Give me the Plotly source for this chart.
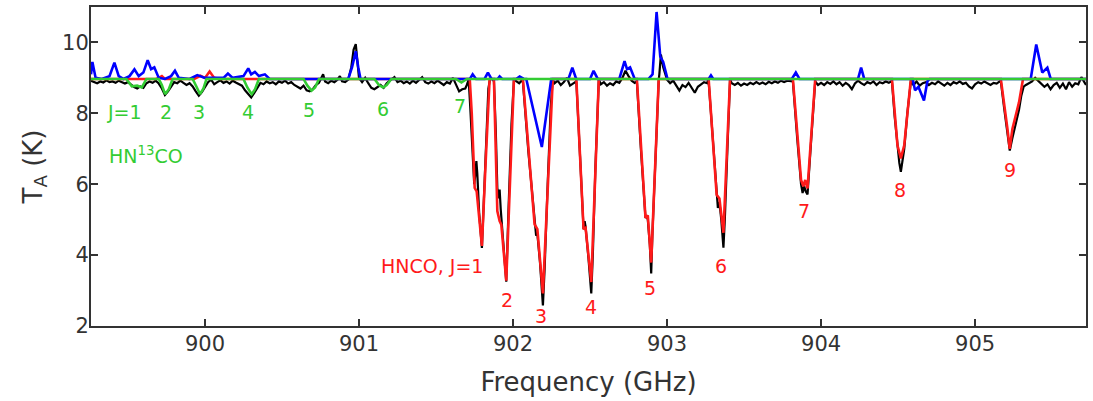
import plotly.graph_objects as go

# ---------------- data ----------------
# observed spectrum (black)
obs_freq = [899.26, 899.28, 899.30, 899.32, 899.34, 899.36, 899.38, 899.40, 899.42, 899.44,
            899.46, 899.48, 899.50, 899.52, 899.54, 899.56, 899.58, 899.60, 899.62, 899.64,
            899.66, 899.68, 899.70, 899.72, 899.74, 899.76, 899.78, 899.80, 899.82, 899.84,
            899.86, 899.88, 899.90, 899.92, 899.94, 899.96, 899.98, 900.00, 900.02, 900.04,
            900.06, 900.08, 900.10, 900.12, 900.14, 900.16, 900.18, 900.20, 900.22, 900.24,
            900.26, 900.28, 900.30, 900.32, 900.34, 900.36, 900.38, 900.40, 900.42, 900.44,
            900.46, 900.48, 900.50, 900.52, 900.54, 900.56, 900.58, 900.60, 900.62, 900.64,
            900.66, 900.68, 900.70, 900.72, 900.74, 900.767, 900.78, 900.80, 900.82, 900.84,
            900.86, 900.876, 900.89, 900.91, 900.93, 900.95, 900.965, 900.979, 900.99, 901.00,
            901.02, 901.04, 901.06, 901.08, 901.10, 901.12, 901.14, 901.16, 901.18, 901.20,
            901.23, 901.25, 901.27, 901.29, 901.31, 901.33, 901.35, 901.37, 901.39, 901.41,
            901.43, 901.45, 901.47, 901.49, 901.51, 901.53, 901.55, 901.57, 901.59, 901.61,
            901.63, 901.65, 901.67, 901.69, 901.70,
            901.712, 901.722, 901.735, 901.748, 901.756, 901.762, 901.768, 901.780, 901.798, 901.810,
            901.825, 901.840, 901.850, 901.860, 901.870,
            901.876, 901.888, 901.898, 901.905, 901.913, 901.920, 901.940, 901.956, 901.970, 901.990,
            902.006, 902.020, 902.040, 902.055,
            902.064, 902.100, 902.140, 902.150, 902.158, 902.175, 902.194, 902.205, 902.225, 902.245,
            902.258, 902.270, 902.290, 902.310, 902.330, 902.350, 902.370, 902.390, 902.405,
            902.411, 902.435, 902.458, 902.465, 902.471, 902.490, 902.508, 902.518, 902.535, 902.557,
            902.570, 902.590, 902.610, 902.630, 902.650, 902.670, 902.690, 902.710, 902.730, 902.750,
            902.770, 902.790, 902.800,
            902.804, 902.830, 902.860, 902.868, 902.875, 902.888, 902.897, 902.905, 902.925, 902.946,
            902.950, 902.960, 902.975, 902.990, 903.000, 903.020, 903.040, 903.060, 903.080, 903.100,
            903.120, 903.140, 903.160, 903.180, 903.200, 903.220, 903.240, 903.260, 903.265,
            903.270, 903.295, 903.322, 903.330, 903.340, 903.352, 903.366, 903.375, 903.392, 903.409,
            903.420, 903.440, 903.460, 903.480, 903.500, 903.520, 903.540, 903.560, 903.580, 903.600,
            903.620, 903.640, 903.660, 903.680, 903.700, 903.720, 903.740, 903.760, 903.780, 903.800,
            903.810,
            903.817, 903.845, 903.870, 903.880, 903.890, 903.900, 903.912, 903.935, 903.962,
            903.980, 904.000, 904.020, 904.040, 904.060, 904.080, 904.100, 904.120, 904.140, 904.160,
            904.180, 904.200, 904.220, 904.240, 904.260, 904.280, 904.300, 904.320, 904.340, 904.360,
            904.380, 904.400, 904.420, 904.440, 904.455,
            904.460, 904.478, 904.496, 904.508, 904.518, 904.528, 904.540, 904.560, 904.583,
            904.600, 904.620, 904.640, 904.660, 904.680, 904.700, 904.720, 904.740, 904.760, 904.780,
            904.800, 904.820, 904.840, 904.860, 904.880, 904.900, 904.920, 904.940, 904.960, 904.980,
            905.000, 905.020, 905.040, 905.060, 905.080, 905.100, 905.120, 905.140, 905.160,
            905.167, 905.190, 905.210, 905.225, 905.242, 905.260, 905.285, 905.300, 905.315, 905.330,
            905.350, 905.370, 905.390, 905.410, 905.430, 905.450, 905.470, 905.490, 905.510, 905.530,
            905.550, 905.570, 905.590, 905.610, 905.630, 905.650, 905.670, 905.690, 905.720]
obs_temp = [8.92, 8.88, 8.85, 8.90, 8.87, 8.93, 8.88, 8.90, 8.86, 8.92,
            8.89, 8.84, 8.88, 8.80, 8.74, 8.70, 8.76, 8.72, 8.85, 8.90,
            8.86, 8.92, 8.84, 8.70, 8.52, 8.62, 8.75, 8.88, 8.85, 8.92,
            8.86, 8.80, 8.85, 8.76, 8.62, 8.50, 8.60, 8.75, 8.88, 8.95,
            8.82, 8.88, 8.93, 8.86, 8.90, 8.84, 8.92, 8.87, 8.83, 8.78,
            8.65, 8.55, 8.45, 8.58, 8.72, 8.86, 8.82, 8.90, 8.85, 8.88,
            8.82, 8.90, 8.86, 8.92, 8.84, 8.88, 8.80, 8.74, 8.70, 8.78,
            8.65, 8.62, 8.68, 8.80, 8.86, 9.10, 8.90, 8.85, 8.92, 8.88,
            8.95, 9.05, 8.90, 8.88, 8.95, 9.30, 9.80, 9.95, 9.50, 9.00,
            8.88, 9.00, 8.85, 8.72, 8.68, 8.75, 8.80, 8.72, 8.85, 8.92,
            9.02, 8.88, 8.92, 8.85, 8.90, 8.84, 8.92, 8.86, 8.95, 9.02,
            8.88, 8.84, 8.90, 8.85, 8.92, 8.86, 8.80, 8.88, 8.84, 9.00,
            8.80, 8.62, 8.68, 8.70, 8.80,
            8.95, 8.20, 6.90, 6.00, 6.30, 6.65, 6.30, 5.20, 4.20, 5.50,
            7.50, 8.70, 8.95, 8.98, 8.95,
            8.90, 7.50, 5.90, 5.60, 5.85, 5.30, 4.20, 3.25, 5.20, 7.70,
            8.95, 8.90, 8.85, 8.92,
            8.90, 6.90, 4.87, 4.55, 4.60, 3.80, 2.58, 3.60, 6.00, 8.20,
            8.95, 8.85, 8.92, 8.80, 8.88, 9.00, 8.78, 8.84, 8.90,
            8.90, 6.80, 4.73, 4.96, 4.80, 3.90, 2.92, 4.00, 6.50, 8.95,
            8.82, 8.88, 8.78, 8.85, 8.80, 8.90, 8.86, 9.00, 9.20, 9.05,
            8.92, 8.86, 8.90,
            8.90, 7.00, 5.05, 5.10, 5.00, 4.30, 3.48, 4.60, 7.00, 8.95,
            9.10, 9.66, 9.30, 9.10, 8.95, 8.85, 8.92, 8.78, 8.64, 8.80,
            8.74, 8.86, 8.70, 8.58, 8.75, 8.82, 8.88, 8.85, 8.92,
            8.90, 7.30, 5.70, 5.33, 5.50, 5.00, 4.21, 5.00, 7.00, 8.95,
            8.85, 8.80, 8.86, 8.78, 8.84, 8.80, 8.86, 8.82, 8.88, 8.83,
            8.87, 8.82, 8.89, 8.85, 8.90, 8.86, 8.92, 8.88, 8.92, 8.90,
            8.90,
            8.90, 7.30, 6.00, 5.75, 5.95, 5.80, 5.71, 7.20, 8.90,
            8.80, 8.86, 8.80, 8.88, 8.83, 8.90, 8.82, 8.88, 8.78, 8.86,
            8.80, 8.68, 8.84, 8.92, 8.85, 8.80, 8.88, 8.84, 8.90, 8.80,
            8.88, 8.85, 8.90, 8.86, 8.90,
            8.90, 7.90, 7.00, 6.60, 6.35, 6.70, 7.00, 8.00, 8.90,
            8.80, 8.90, 8.78, 8.85, 8.88, 8.80, 8.86, 8.82, 8.90, 8.84,
            8.78, 8.86, 8.80, 8.88, 8.84, 8.90, 8.83, 8.86, 8.76, 8.70,
            8.82, 8.88, 8.84, 8.90, 8.85, 8.80, 8.86, 8.84, 8.90,
            8.90, 8.10, 7.50, 6.95, 7.30, 7.60, 8.10, 8.50, 8.75, 8.80,
            8.85, 8.90, 9.00, 8.92, 8.85, 8.75, 8.82, 8.68, 8.80, 8.86,
            8.72, 8.84, 8.68, 8.88, 8.75, 8.85, 8.82, 9.02, 8.80]

# HNCO model (red)
hnco_freq = [899.26, 899.68, 899.70, 899.72, 899.74, 899.93, 899.97, 900.00, 900.03, 900.06, 900.10, 901.706,
             901.719, 901.732, 901.751, 901.764, 901.798, 901.822, 901.848,
             901.876, 901.898, 901.913, 901.924, 901.956, 902.006,
             902.064, 902.140, 902.158, 902.194, 902.258,
             902.411, 902.458, 902.471, 902.508, 902.557,
             902.804, 902.860, 902.875, 902.897, 902.946,
             903.270, 903.322, 903.340, 903.366, 903.409,
             903.817, 903.870, 903.885, 903.897, 903.912, 903.962,
             904.460, 904.496, 904.518, 904.540, 904.583,
             905.167, 905.210, 905.225, 905.242, 905.285, 905.311, 905.720]
hnco_temp = [8.97, 8.97, 9.00, 9.05, 8.97, 8.97, 9.06, 9.00, 9.18, 9.00, 8.97, 8.97,
             8.97, 8.00, 5.90, 5.80, 4.26, 6.60, 8.97,
             8.97, 5.24, 4.96, 4.86, 3.28, 8.97,
             8.97, 4.87, 4.73, 2.92, 8.97,
             8.97, 4.73, 4.77, 3.24, 8.97,
             8.97, 5.05, 5.12, 3.79, 8.97,
             8.97, 5.70, 5.60, 4.63, 8.97,
             8.97, 6.12, 5.94, 6.12, 5.88, 8.97,
             8.97, 7.10, 6.73, 7.10, 8.97,
             8.97, 7.56, 7.00, 7.56, 8.31, 8.97, 8.97]

# other species model (blue)
blue_freq = [899.26, 899.269, 899.29, 899.33, 899.38, 899.412, 899.44, 899.47, 899.51, 899.542,
             899.57, 899.60, 899.628, 899.65, 899.671, 899.70, 899.74, 899.78, 899.805, 899.83,
             899.90, 899.95, 900.00, 900.12, 900.149, 900.18, 900.25, 900.281, 900.30, 900.324,
             900.35, 900.389, 900.42, 900.93, 900.955, 900.979, 900.995, 901.01,
             901.72, 901.738, 901.76, 901.815, 901.837, 901.86, 901.90, 901.913, 901.93, 902.02,
             902.043, 902.07, 902.086, 902.187, 902.248, 902.27, 902.36, 902.385, 902.41, 902.50,
             902.523, 902.55, 902.69, 902.724, 902.74, 902.76, 902.79, 902.88, 902.906, 902.932,
             902.956, 902.975, 903.003, 903.27, 903.285, 903.30, 903.81, 903.836, 903.86, 904.24,
             904.26, 904.28, 904.595, 904.610, 904.632, 904.668, 904.690, 904.705, 905.361, 905.397,
             905.436, 905.469, 905.491, 905.720]
blue_temp = [9.10, 9.45, 9.00, 8.97, 9.05, 9.43, 9.05, 8.97, 9.05, 9.24,
             9.05, 9.15, 9.50, 9.25, 9.30, 9.00, 8.97, 9.05, 9.20, 9.00,
             8.97, 9.08, 9.00, 9.00, 9.12, 9.00, 9.05, 9.27, 9.10, 9.17,
             9.05, 9.10, 8.97, 8.97, 9.30, 9.75, 9.30, 8.97,
             8.97, 9.10, 8.97, 8.97, 9.15, 8.97, 8.97, 9.04, 8.97, 8.97,
             9.04, 8.97, 8.97, 7.05, 8.97, 8.97, 8.97, 9.29, 8.97, 8.97,
             9.20, 8.97, 8.97, 9.47, 9.25, 9.30, 8.97, 8.97, 9.10, 10.86,
             9.60, 9.45, 8.97, 8.97, 9.07, 8.97, 8.97, 9.15, 8.97, 8.97,
             9.29, 8.97, 8.97, 8.65, 8.75, 8.36, 8.90, 8.97, 8.97, 9.94,
             9.15, 9.29, 8.97, 8.97]

# HN13CO model (green)
hn13co_freq = [899.26, 899.49, 899.525, 899.56, 899.59, 899.62, 899.70, 899.720, 899.741, 899.765,
               899.79, 899.92, 899.945, 899.968, 899.990, 900.01, 900.25, 900.275, 900.303, 900.325,
               900.35, 900.64, 900.665, 900.692, 900.715, 900.74, 901.10, 901.130, 901.156, 901.180,
               901.21, 901.63, 901.665, 901.70, 905.720]
hn13co_temp = [8.97, 8.97, 8.76, 8.78, 8.73, 8.97, 8.97, 8.80, 8.54, 8.68,
               8.97, 8.97, 8.75, 8.54, 8.70, 8.97, 8.97, 8.73, 8.54, 8.68,
               8.97, 8.97, 8.78, 8.64, 8.73, 8.97, 8.97, 8.80, 8.73, 8.80,
               8.97, 8.97, 8.87, 8.97, 8.97]

# labels
hnco_labels = ["HNCO, J=1", "2", "3", "4", "5", "6", "7", "8", "9"]
hnco_label_freq = [901.818, 901.958, 902.179, 902.503, 902.892, 903.353, 903.891, 904.514, 905.227]
hnco_label_temp = [3.70, 2.73, 2.28, 2.54, 3.06, 3.70, 5.24, 5.84, 6.40]

hn13co_labels = ["J=1", "2", "3", "4", "5", "6", "7"]
hn13co_label_freq = [899.478, 899.747, 899.961, 900.279, 900.674, 901.158, 901.654]
hn13co_label_temp = [8.03, 8.03, 8.03, 8.03, 8.10, 8.11, 8.20]

x_ticks = [900, 901, 902, 903, 904, 905]
y_ticks = [2, 4, 6, 8, 10]

# ---------------- figure ----------------
RED = "#ff1a1a"
GREEN = "#33cc33"
BLUE = "#0000ff"
FONT = "DejaVu Sans"

fig = go.Figure()
fig.add_trace(go.Scatter(x=obs_freq, y=obs_temp, mode="lines",
                         line=dict(color="black", width=2.2), hoverinfo="skip"))
fig.add_trace(go.Scatter(x=hnco_freq, y=hnco_temp, mode="lines",
                         line=dict(color=RED, width=2.6), hoverinfo="skip"))
fig.add_trace(go.Scatter(x=blue_freq, y=blue_temp, mode="lines",
                         line=dict(color=BLUE, width=2.6), hoverinfo="skip"))
fig.add_trace(go.Scatter(x=hn13co_freq, y=hn13co_temp, mode="lines",
                         line=dict(color=GREEN, width=2.6), hoverinfo="skip"))

ann = []
for i, (t, f, v) in enumerate(zip(hnco_labels, hnco_label_freq, hnco_label_temp)):
    ann.append(dict(x=f, y=v, text=t, showarrow=False, xref="x", yref="y",
                    xanchor="right" if i == 0 else "center", yanchor="middle",
                    font=dict(family=FONT, size=19, color=RED)))
for t, f, v in zip(hn13co_labels, hn13co_label_freq, hn13co_label_temp):
    ann.append(dict(x=f, y=v, text=t, showarrow=False, xref="x", yref="y",
                    xanchor="center", yanchor="middle",
                    font=dict(family=FONT, size=19, color=GREEN)))
ann.append(dict(x=899.365, y=6.83, text="HN<sup>13</sup>CO", showarrow=False, xref="x", yref="y",
                xanchor="left", yanchor="middle",
                font=dict(family=FONT, size=19, color=GREEN)))

axis_common = dict(showline=True, linecolor="#333333", linewidth=2, mirror="ticks",
                   ticks="inside", ticklen=7, tickwidth=2, tickcolor="#333333",
                   showgrid=False, zeroline=False,
                   tickfont=dict(family=FONT, size=21, color="#333333"))

fig.update_layout(
    width=1093, height=401,
    margin=dict(l=91, r=6, t=5, b=75),
    paper_bgcolor="white", plot_bgcolor="white",
    showlegend=False,
    annotations=ann,
    xaxis=dict(range=[899.26, 905.72], tickvals=x_ticks, ticktext=[str(v) for v in x_ticks],
               ticklabelstandoff=-2,
               title=dict(text="Frequency (GHz)", font=dict(family=FONT, size=26, color="#333333"),
                          standoff=18),
               **axis_common),
    yaxis=dict(range=[2, 11], tickvals=y_ticks, ticktext=[str(v) for v in y_ticks],
               ticklabelstandoff=-4,
               title=dict(text="T<sub>A</sub> (K)", font=dict(family=FONT, size=26, color="#333333"),
                          standoff=12),
               **axis_common),
)

fig.write_html("out.html")
